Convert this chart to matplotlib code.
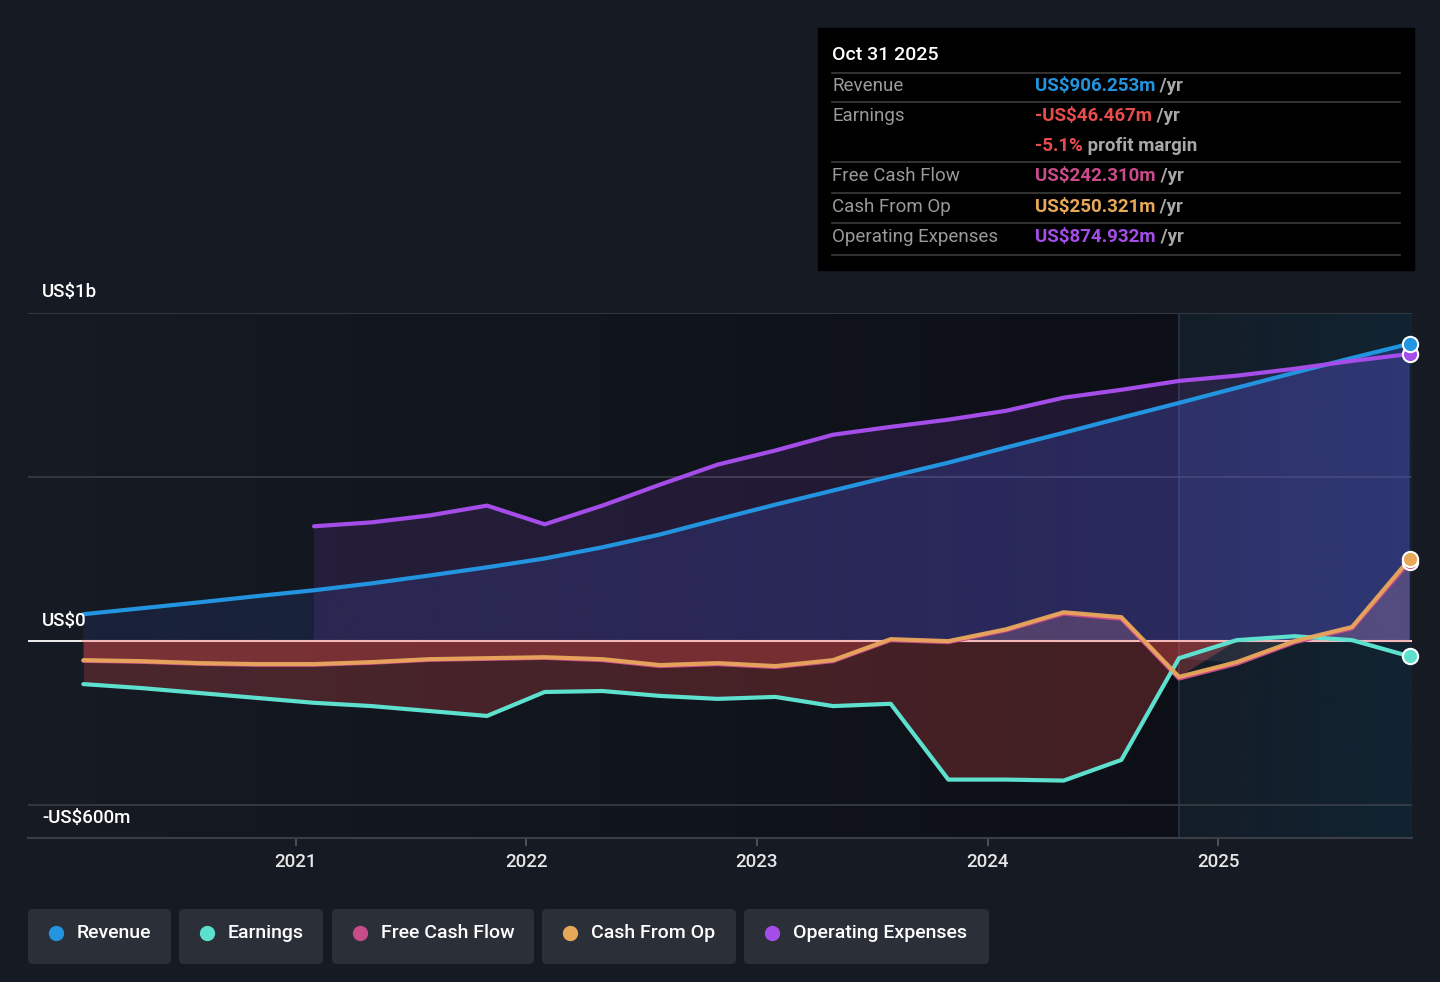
import numpy as np
import matplotlib
matplotlib.use("Agg")
import matplotlib.pyplot as plt
from matplotlib.colors import to_rgb
from matplotlib.patches import FancyBboxPatch, Rectangle

plt.rcParams['font.family'] = ['Roboto', 'DejaVu Sans']

# quarter ends, Jan 2020 .. Oct 2025 (decimal years)
dates = [2020.08, 2020.33, 2020.58, 2020.83, 2021.08, 2021.33, 2021.58, 2021.83,
         2022.08, 2022.33, 2022.58, 2022.83, 2023.08, 2023.33, 2023.58, 2023.83,
         2024.08, 2024.33, 2024.58, 2024.83, 2025.08, 2025.33, 2025.58, 2025.83]

# US$ millions, trailing twelve months
revenue = [82, 100, 118, 137, 155, 176, 200, 225, 252, 286, 325, 371,
           416, 459, 502, 544, 590, 635, 681, 726, 772, 818, 863, 906.253]
earnings = [-131, -143, -158, -173, -188, -198, -213, -228, -155, -152, -167, -176,
            -170, -198, -191, -422, -422, -425, -362, -52, 3, 15, 3, -46.467]
cash_from_op = [-58, -61, -67, -70, -70, -64, -55, -52, -49, -55, -73, -67,
                -76, -58, 6, 0, 36, 88, 73, -109, -64, 0, 43, 250.321]
free_cash_flow = [-60, -63, -69, -72, -72, -66, -57, -54, -51, -58, -76, -70,
                  -79, -61, 3, -3, 33, 84, 68, -114, -69, -4, 39, 242.310]
# operating expenses reported from 2021 onwards
opex_dates = dates[4:]
opex = [350, 362, 383, 413, 356, 413, 477, 538, 581, 629, 653, 675,
        702, 742, 766, 793, 809, 830, 854, 874.932]

year_ticks = [2021, 2022, 2023, 2024, 2025]
forecast_start = 2024.83

BG = '#151a23'
C_REV = '#2394df'
C_EARN = '#5ee0cf'
C_FCF = '#c84b8a'
C_CFO = '#e8a85a'
C_OPEX = '#a44de8'
C_RED = '#e84d4d'

fig = plt.figure(figsize=(14.4, 9.82), dpi=100, facecolor=BG)
ax = fig.add_axes([28/1440, 1-838/982, 1384/1440, 525/982])
ax.set_facecolor(BG)
YMIN, YMAX = -600, 1000
XMIN, XMAX = 2019.84, 2025.84

x = np.array(dates)


def grad_fill(xs, y1, y2, color, a0, a1, z):
    poly = ax.fill_between(xs, y1, y2, color='none', lw=0)
    path = poly.get_paths()[0]
    img = np.zeros((2, 256, 4))
    img[..., :3] = to_rgb(color)
    img[..., 3] = np.linspace(a0, a1, 256)
    im = ax.imshow(img, extent=[xs[0], xs[-1], YMIN, YMAX], aspect='auto',
                   origin='lower', zorder=z, interpolation='bilinear')
    im.set_clip_path(path, transform=ax.transData)


# background shading: past darkens to the right, forecast band
past = np.zeros((2, 256, 4))
past[..., :3] = to_rgb('#07090d')
past[..., 3] = np.linspace(0.0, 0.6, 256)
ax.imshow(past, extent=[dates[0], forecast_start, YMIN, YMAX], aspect='auto',
          origin='lower', zorder=0)
fc = np.zeros((2, 256, 4))
fc[..., :3] = to_rgb('#0f2a3c')
fc[..., 3] = np.linspace(0.2, 0.6, 256)
ax.imshow(fc, extent=[forecast_start, XMAX, YMIN, YMAX], aspect='auto',
          origin='lower', zorder=0)
ax.axvline(forecast_start, color='#26364a', lw=1.2, zorder=1)

# grid
for g in [1000, 500, -500]:
    ax.axhline(g, color='#3a3f47', lw=1.2, zorder=1)

# area fills
grad_fill(x, 0, revenue, '#3a5fd8', 0.12, 0.3, 2)
grad_fill(np.array(opex_dates), 0, opex, C_OPEX, 0.13, 0.13, 2)

cfo = np.array(cash_from_op)
earn = np.array(earnings)
past_mask = x <= forecast_start + 1e-6
ax.fill_between(x, 0, earn, where=(earn < 0) & past_mask, color=C_RED, alpha=0.25,
                lw=0, zorder=3, interpolate=True)
ax.fill_between(x, 0, cfo, where=(cfo < 0) & past_mask, color=C_RED, alpha=0.3,
                lw=0, zorder=3, interpolate=True)
ax.fill_between(x, 0, cfo, where=cfo > 0, color='#f0a0b0', alpha=0.2,
                lw=0, zorder=3, interpolate=True)
ax.fill_between(x, earn, cfo, where=(~past_mask) & (earn > cfo), color='#c0a0c0',
                alpha=0.12, lw=0, zorder=3, interpolate=True)

# zero line
ax.axhline(0, color='white', lw=1.3, zorder=4)
ax.plot([dates[0], dates[-1]], [0, 0], color='#f4b8b8', lw=1.5, zorder=4)

# lines
kw = dict(lw=3, solid_capstyle='round', solid_joinstyle='round')
ax.plot(x, revenue, color=C_REV, zorder=6, **kw)
ax.plot(opex_dates, opex, color=C_OPEX, zorder=6, **kw)
ax.plot(x, free_cash_flow, color=C_FCF, zorder=6, **kw)
ax.plot(x, cash_from_op, color=C_CFO, zorder=7, alpha=0.95, **kw)
ax.plot(x, earnings, color=C_EARN, zorder=6, **kw)

for ser, c in [(earnings, C_EARN), (free_cash_flow, C_FCF), (cash_from_op, C_CFO),
               (opex, C_OPEX), (revenue, C_REV)]:
    ax.plot(dates[-1], ser[-1], 'o', ms=11, mfc=c, mec='white', mew=1.5, zorder=9,
            clip_on=False)

ax.set_xlim(XMIN, XMAX)
ax.set_ylim(YMIN, YMAX)
for s in ['top', 'right', 'left']:
    ax.spines[s].set_visible(False)
ax.spines['bottom'].set_color('#3a3f47')
ax.spines['bottom'].set_linewidth(1.5)
ax.set_yticks([])
ax.set_xticks(year_ticks)
ax.set_xticklabels([str(t) for t in year_ticks], fontweight='medium')
ax.tick_params(axis='x', colors='#555b63', length=6, width=1.2, labelcolor='#e6e6e6',
               labelsize=13.5, pad=5)

# overlay in pixel coordinates
ov = fig.add_axes([0, 0, 1, 1], facecolor='none')
ov.set_xlim(0, 1440)
ov.set_ylim(982, 0)
ov.axis('off')

for lbl, yy in [('US$1b', 292), ('US$0', 621), ('-US$600m', 818)]:
    ov.text(42, yy, lbl, color='white', fontsize=13.5, va='center', ha='left',
            weight='medium', zorder=10)

# tooltip
ov.add_patch(Rectangle((818, 28), 596, 242, color='black', zorder=10))
ov.text(832, 55, 'Oct 31 2025', color='white', fontsize=14, va='center',
        weight='medium', zorder=11)
for yy in [73, 102, 162, 193, 223, 255]:
    ov.plot([832, 1400], [yy, yy], color='#3c3c3c', lw=1.2, zorder=11)

rows = [
    ('Revenue', 86, 'US$906.253m', C_REV, ' /yr'),
    ('Earnings', 116, '-US$46.467m', C_RED, ' /yr'),
    ('', 146, '-5.1%', C_RED, ' profit margin'),
    ('Free Cash Flow', 176, 'US$242.310m', C_FCF, ' /yr'),
    ('Cash From Op', 207, 'US$250.321m', C_CFO, ' /yr'),
    ('Operating Expenses', 237, 'US$874.932m', C_OPEX, ' /yr'),
]
for name, yy, val, c, suf in rows:
    if name:
        ov.text(832, yy, name, color='#9a9a9a', fontsize=13.5, va='center', zorder=11)
    t = ov.text(1035, yy, val, color=c, fontsize=13.5, va='center', weight='bold', zorder=11)
    ov.annotate(suf, xy=(1, 0.5), xycoords=t, va='center', ha='left',
                color='#a8a8a8', fontsize=13.5, weight='bold', zorder=11)

# legend chips
legend = [('Revenue', C_REV, 28, 171), ('Earnings', C_EARN, 179, 323),
          ('Free Cash Flow', C_FCF, 332, 534), ('Cash From Op', C_CFO, 542, 736),
          ('Operating Expenses', C_OPEX, 744, 989)]
for name, c, x0, x1 in legend:
    ov.add_patch(FancyBboxPatch((x0, 909), x1 - x0, 55,
                                boxstyle='round,pad=0,rounding_size=5',
                                fc='#2a2f38', ec='none', zorder=10))
    ov.plot(x0 + 28, 933, 'o', ms=10, color=c, zorder=11)
    ov.text(x0 + 49, 933, name, color='white', fontsize=14, va='center',
            weight='medium', zorder=11)

fig.savefig('out.png', dpi=100, facecolor=BG)
